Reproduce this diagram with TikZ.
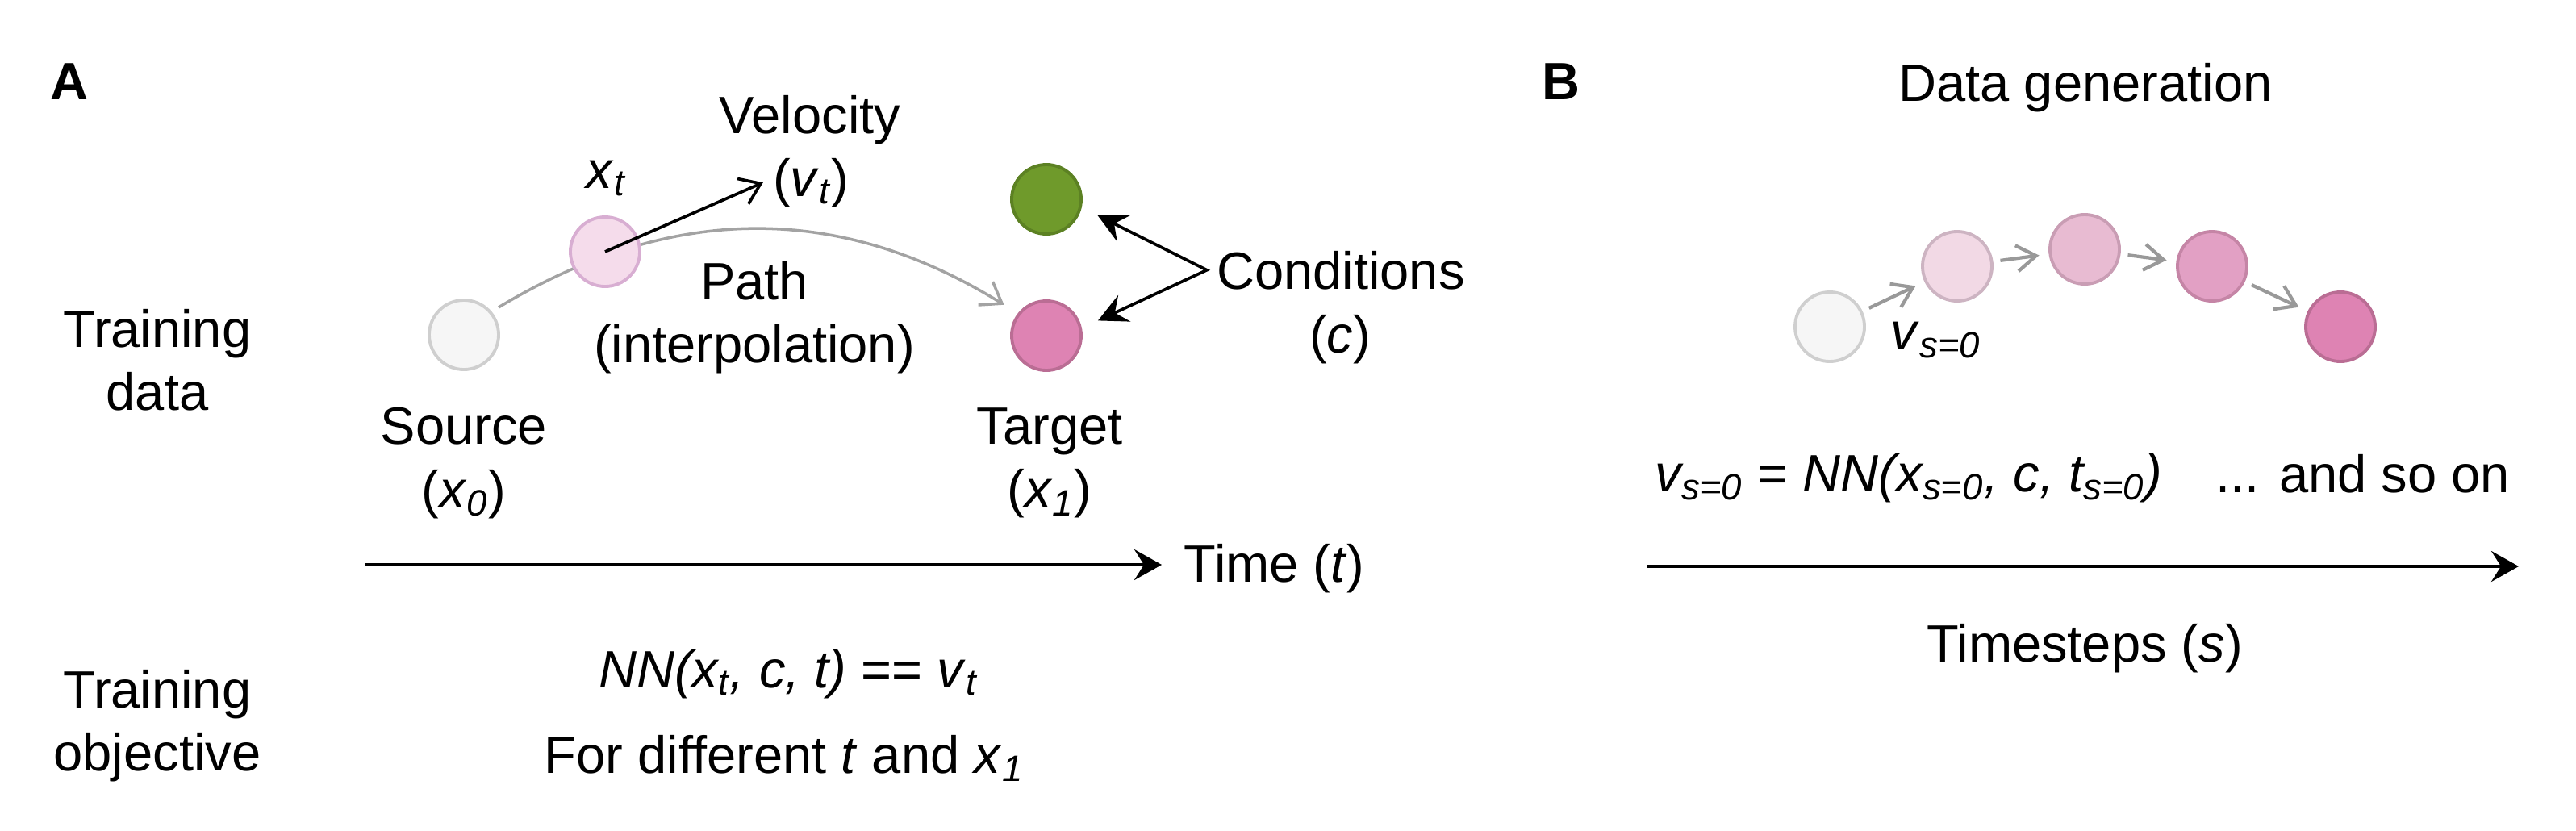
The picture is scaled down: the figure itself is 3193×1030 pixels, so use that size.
\documentclass[tikz,border=0pt]{standalone}
\usepackage{fontspec}
\setmainfont{Liberation Sans}
\usepackage{xcolor}
\usetikzlibrary{arrows.meta,backgrounds}
\definecolor{srcfill}{HTML}{F6F6F6}
\definecolor{srcline}{HTML}{CFCFCF}
\definecolor{xtfill}{HTML}{F5DCEB}
\definecolor{xtline}{HTML}{D8AED2}
\definecolor{condfill}{HTML}{6F9A2B}
\definecolor{condline}{HTML}{5C8123}
\definecolor{tgtfill}{HTML}{DE83B3}
\definecolor{tgtline}{HTML}{BA6D94}
\colorlet{gen0}{srcfill}\colorlet{genline0}{srcline}
\definecolor{gen1}{HTML}{F2D9E5}\definecolor{genline1}{HTML}{CDB4C2}
\definecolor{gen2}{HTML}{E8BBD2}\definecolor{genline2}{HTML}{C99DB4}
\definecolor{gen3}{HTML}{E2A0C4}\definecolor{genline3}{HTML}{C585A6}
\colorlet{gen4}{tgtfill}\colorlet{genline4}{tgtline}
\definecolor{pathgray}{HTML}{A3A3A3}
\definecolor{stepgray}{HTML}{999999}
\newcommand{\sub}[1]{\textsubscript{\itshape #1}}
\tikzset{
	txt/.style={font=\fontsize{18.5}{22.2}\selectfont},%
	panel/.style={font=\fontsize{18.5}{22.2}\selectfont\bfseries,anchor=base},%
	sample/.style={circle,minimum size=\dotsize,inner sep=0pt,line width=1.1pt},%
	pathline/.style={draw=pathgray,line width=1pt,-{Straight Barb[length=2.4mm,width=3.4mm]},shorten <=0.1cm,shorten >=0.2cm},%
	velarrow/.style={line width=1.05pt,-{Straight Barb[length=2.4mm,width=3.4mm]}},%
	condarrow/.style={line width=1.05pt,{Stealth[length=3.6mm,width=3.6mm,inset=1.3mm]}-{Stealth[length=3.6mm,width=3.6mm,inset=1.3mm]},shorten <=0.22cm,shorten >=0.22cm},%
	stepline/.style={draw=stepgray,line width=1.2pt,-{Straight Barb[length=2.4mm,width=3.2mm]},shorten <=0.09cm,shorten >=0.12cm},%
	timeaxis/.style={line width=1.15pt,-{Stealth[length=3.4mm,width=3.8mm,inset=1.2mm]}},%
}
\def\dotsize{0.86cm}

\begin{document}
\begin{tikzpicture}[x=0.01cm,y=-0.01cm]
	\useasboundingbox (0,0) rectangle (3193,1030);
	% A: training
	\node[panel] (labA) at (86,123) {A};
	\node[txt,align=center] (trdata) at (195,446) {Training\\data};
	\node[txt,align=center] (trobj) at (195,900) {Training\\objective};
	\node[sample,fill=srcfill,draw=srcline] (src) at (575,415) {};
	\node[sample,fill=xtfill,draw=xtline] (xt) at (750,312) {};
	\node[sample,fill=condfill,draw=condline] (cond) at (1297,247) {};
	\node[sample,fill=tgtfill,draw=tgtline] (tgt) at (1297,416) {};
	\begin{scope}[on background layer]
		\draw[pathline] (src.40) .. controls (832,252) and (1040,251) .. (tgt.142);
	\end{scope}
	\node[txt,anchor=base] (xttxt) at (751,233) {\textit{x}\sub{t}};
	\node[txt,anchor=base] (veltxt) at (1004,165) {Velocity};
	\node[txt,anchor=base] (vt) at (1005,243) {(\textit{v}\sub{t})};
	\draw[velarrow] (xt.center) -- (vt.west);
	\node[txt,align=center] (pathtxt) at (935,394) {Path\\(interpolation)};
	\node[txt,align=center] (srctxt) at (575,574) {Source\\(\textit{x}\sub{0})};
	\node[txt,align=center] (tgttxt) at (1301,574) {Target\\(\textit{x}\sub{1})};
	\node[txt,anchor=base] (condtxt) at (1662,358) {Conditions};
	\node[txt,anchor=base] (ctxt) at (1661,437) {(\textit{c})};
	\draw[condarrow] (cond.-13) -- (condtxt.west) -- (tgt.12);
	\coordinate (tstart) at (452,700);
	\node[txt,anchor=base west,inner sep=0pt] (timetxt) at (1467,721) {Time (\textit{t})};
	\draw[timeaxis,shorten >=0.27cm] (tstart) -- (tstart -| timetxt.west);
	\node[txt,anchor=base] (objrule) at (977,852) {{\itshape NN(x\sub{t}, c, t)} == \textit{v}\sub{t}};
	\node[txt,anchor=base] (objnote) at (972,958) {For different \textit{t} and \textit{x}\sub{1}};
	% B: generation
	\node[panel] (labB) at (1935,123) {B};
	\node[txt,anchor=base] (gentitle) at (2585,125) {Data generation};
	\foreach \i/\x/\y in {0/2268/405,1/2426/330,2/2584/309,3/2742/330,4/2901/405}
		\node[sample,fill=gen\i,draw=genline\i] (s\i) at (\x,\y) {};
	\foreach \a/\b in {0/1,1/2,2/3,3/4}
		\draw[stepline] (s\a) -- (s\b);
	\node[txt,anchor=base west,inner sep=0pt] (vs) at (2343,433) {\textit{v}\sub{s=0}};
	\node[txt,anchor=base west,inner sep=0pt] (genrule) at (2051,609) {{\itshape v\sub{s=0}} = {\itshape NN(x\sub{s=0}, c, t\sub{s=0})}};
	\node[txt,anchor=base west,inner sep=0pt] (genmore) at (2746,610) {... and so on};
	\coordinate (sa) at (2042,702);
	\coordinate (sb) at (3122,702);
	\draw[timeaxis] (sa) -- (sb);
	\node[txt,anchor=base] (steptxt) at (2584,820) {Timesteps (\textit{s})};
\end{tikzpicture}
\end{document}
